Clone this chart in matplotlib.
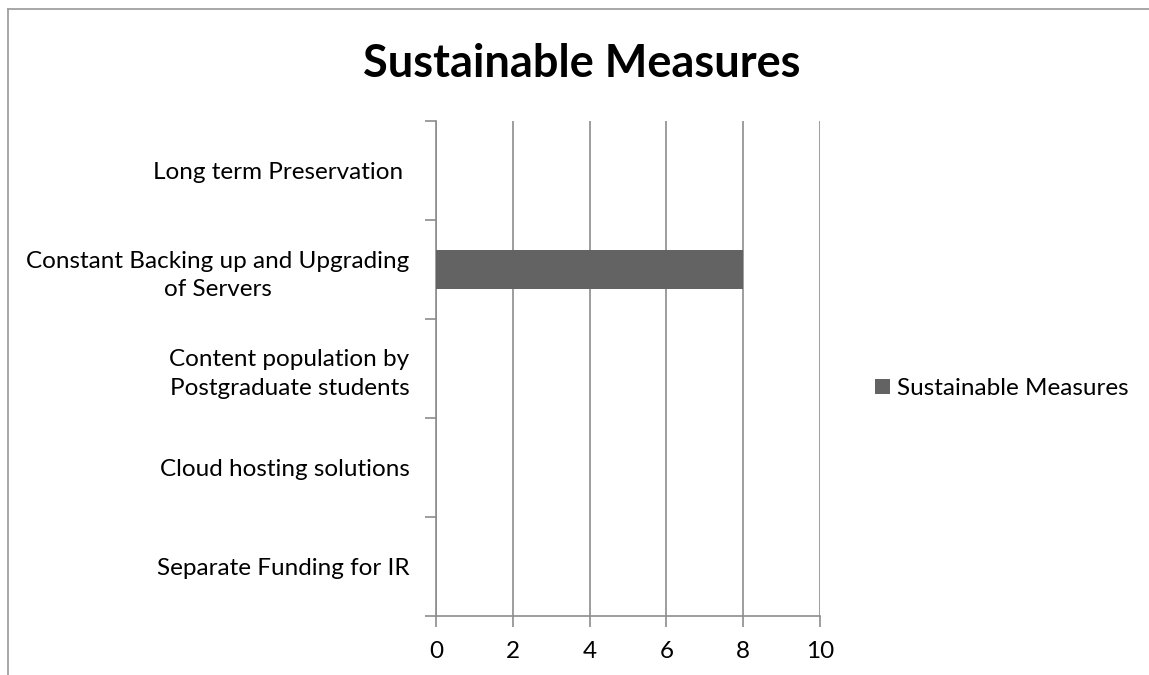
import matplotlib
matplotlib.use('Agg')
import matplotlib.pyplot as plt
import numpy as np
from matplotlib.patches import Patch
from matplotlib.lines import Line2D

categories = ['Separate Funding for IR',
              'Cloud hosting solutions',
              'Content population by\nPostgraduate students',
              'Constant Backing up and Upgrading\nof Servers',
              'Long term Preservation ']
values = [0, 0, 0, 8, 0]
series_name = 'Sustainable Measures'
xticks = [0, 2, 4, 6, 8, 10]

plt.rcParams['font.family'] = ['Lato', 'DejaVu Sans']

W, H = 1149, 675
fig = plt.figure(figsize=(W/100., H/100.), dpi=100)
ax = fig.add_axes([436./W, 1-616./H, (820.-436.)/W, (616.-121.)/H])

grid_col = '#8c8c8c'
bar_col = '#636363'

pos = np.arange(len(categories))
ax.barh(pos, values, height=0.4, color=bar_col, zorder=3)

ax.set_xlim(0, 10)
ax.set_ylim(-0.5, len(categories)-0.5)
ax.set_xticks(xticks)
ax.set_xticklabels([str(t) for t in xticks], fontsize=17.5)
ax.tick_params(axis='x', length=8, width=1.2, color=grid_col, pad=10)
ax.xaxis.grid(True, color=grid_col, lw=1.2, zorder=0)

# category boundaries as major ticks, labels on minor ticks
ax.set_yticks(np.arange(-0.5, len(categories), 1))
ax.set_yticklabels([])
ax.tick_params(axis='y', which='major', length=8, width=1.2, color=grid_col)
ax.set_yticks(pos, minor=True)
ax.set_yticklabels(categories, minor=True, fontsize=17.5,
                   multialignment='center', linespacing=1.45)
ax.tick_params(axis='y', which='minor', length=0, pad=19)

for s in ['top', 'right']:
    ax.spines[s].set_visible(False)
for s in ['left', 'bottom']:
    ax.spines[s].set_color(grid_col)
    ax.spines[s].set_linewidth(1.2)

fig.text(582./W, 1-77./H, 'Sustainable Measures', ha='center', va='baseline',
         fontsize=32.5, fontweight='bold')

handles = [Patch(facecolor=bar_col, edgecolor='none', label=series_name)]
fig.legend(handles=handles, loc='center left', frameon=False, fontsize=17.5,
           bbox_to_anchor=(875./W, 1-388.5/H), bbox_transform=fig.transFigure,
           handlelength=0.62, handleheight=0.62, handletextpad=0.3,
           borderpad=0, borderaxespad=0)

# chart area border (only top and left visible)
fig.add_artist(Line2D([8./W, 1], [1-9./H, 1-9./H], transform=fig.transFigure,
                      color='#a0a0a0', lw=1.3))
fig.add_artist(Line2D([8./W, 8./W], [0, 1-9./H], transform=fig.transFigure,
                      color='#a0a0a0', lw=1.3))

fig.savefig('out.png', dpi=100)
